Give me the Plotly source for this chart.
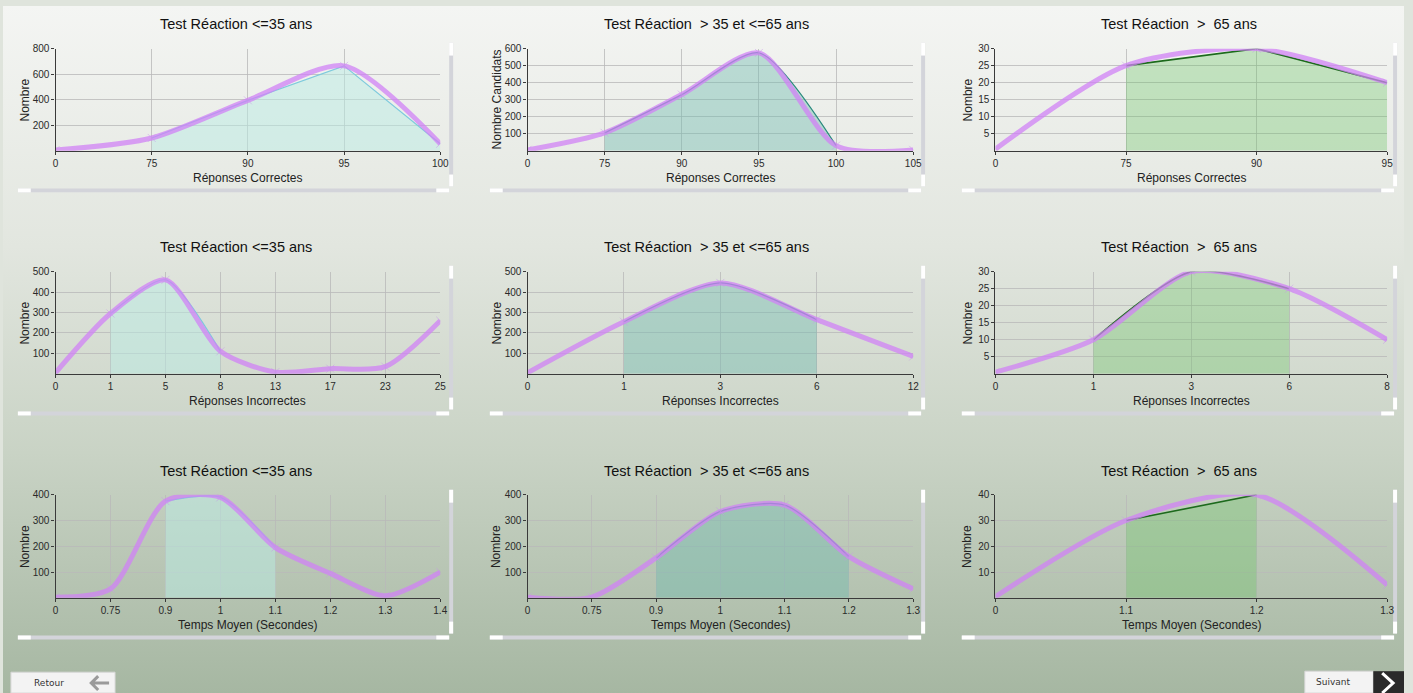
import base64
import plotly.graph_objects as go

W, H = 1413, 693

# ---------------- DATA ----------------
titles = ["Test Réaction <=35 ans", "Test Réaction  > 35 et <=65 ans", "Test Réaction  >  65 ans"]
x_titles = ["Réponses Correctes", "Réponses Incorrectes", "Temps Moyen (Secondes)"]

# Row 1 : Réponses Correctes
corr_cats_young = ["0", "75", "90", "95", "100"]
corr_vals_young = [5, 100, 395, 665, 55]
corr_band_young = ["75", "100"]

corr_cats_mid = ["0", "75", "90", "95", "100", "105"]
corr_vals_mid = [5, 105, 330, 575, 30, 5]
corr_band_mid = ["75", "100"]

corr_cats_old = ["0", "75", "90", "95"]
corr_vals_old = [0.5, 25, 30, 20]
corr_band_old = ["75", "95"]

# Row 2 : Réponses Incorrectes
inc_cats_young = ["0", "1", "5", "8", "13", "17", "23", "25"]
inc_vals_young = [5, 295, 460, 110, 8, 25, 35, 260]
inc_band_young = ["1", "8"]

inc_cats_mid = ["0", "1", "3", "6", "12"]
inc_vals_mid = [5, 255, 445, 265, 85]
inc_band_mid = ["1", "6"]

inc_cats_old = ["0", "1", "3", "6", "8"]
inc_vals_old = [0.5, 10, 30, 25, 10]
inc_band_old = ["1", "6"]

# Row 3 : Temps Moyen
time_cats_young = ["0", "0.75", "0.9", "1", "1.1", "1.2", "1.3", "1.4"]
time_vals_young = [2, 35, 375, 390, 195, 95, 8, 100]
time_band_young = ["0.9", "1.1"]

time_cats_mid = ["0", "0.75", "0.9", "1", "1.1", "1.2", "1.3"]
time_vals_mid = [2, 3, 155, 335, 360, 160, 35]
time_band_mid = ["0.9", "1.2"]

time_cats_old = ["0", "1.1", "1.2", "1.3"]
time_vals_old = [0.5, 30, 40, 5]
time_band_old = ["1.1", "1.2"]

# y tick labels per panel
yticks_corr_young = [200, 400, 600, 800]
yticks_corr_mid = [100, 200, 300, 400, 500, 600]
yticks_corr_old = [5, 10, 15, 20, 25, 30]
yticks_inc_young = [100, 200, 300, 400, 500]
yticks_inc_mid = [100, 200, 300, 400, 500]
yticks_inc_old = [5, 10, 15, 20, 25, 30]
yticks_time_young = [100, 200, 300, 400]
yticks_time_mid = [100, 200, 300, 400]
yticks_time_old = [10, 20, 30, 40]

y_titles = [["Nombre", "Nombre Candidats", "Nombre"],
            ["Nombre", "Nombre", "Nombre"],
            ["Nombre", "Nombre", "Nombre"]]

panels = [
    [(corr_cats_young, corr_vals_young, corr_band_young, yticks_corr_young, "linear"),
     (corr_cats_mid, corr_vals_mid, corr_band_mid, yticks_corr_mid, "spline"),
     (corr_cats_old, corr_vals_old, corr_band_old, yticks_corr_old, "linear")],
    [(inc_cats_young, inc_vals_young, inc_band_young, yticks_inc_young, "spline"),
     (inc_cats_mid, inc_vals_mid, inc_band_mid, yticks_inc_mid, "spline"),
     (inc_cats_old, inc_vals_old, inc_band_old, yticks_inc_old, "spline")],
    [(time_cats_young, time_vals_young, time_band_young, yticks_time_young, "spline"),
     (time_cats_mid, time_vals_mid, time_band_mid, yticks_time_mid, "spline"),
     (time_cats_old, time_vals_old, time_band_old, yticks_time_old, "linear")],
]

# ---------------- STYLE / LAYOUT ----------------
col_px = [(53, 441), (529, 918), (1001, 1396)]
row_px = [(43, 146), (268, 371), (493, 597)]
row_off = [0, 225, 451]
title_cx = [235, 710, 1186]
ytitle_cx = [22, 498, 973]
vbar_x = [452, 928, 1404]
hbar_x = [(15, 450), (491, 926), (967, 1403)]

fill_colors = ["rgba(185,235,228,0.50)", "rgba(110,185,175,0.42)", "rgba(100,195,95,0.33)"]
band_line_colors = ["rgba(120,200,220,0.95)", "#2a8a7e", "#1c6a1c"]
band_line_width = [1.2, 1.3, 1.6]
violet = "rgba(208,130,245,0.75)"

FONT = "Liberation Sans, Arial, sans-serif"


def pxx(x):
    return x / W


def pyy(y):
    return 1 - y / H


fig = go.Figure()
annotations = []
shapes = []
layout_axes = {}

idx = 0
for r in range(3):
    for c in range(3):
        idx += 1
        cats, vals, band, yticks, band_shape = panels[r][c]
        xa = "x" if idx == 1 else f"x{idx}"
        ya = "y" if idx == 1 else f"y{idx}"
        i0, i1 = cats.index(band[0]), cats.index(band[1])
        bx, by = cats[i0:i1 + 1], vals[i0:i1 + 1]

        # filled band with thin line
        fig.add_trace(go.Scatter(
            x=bx, y=by, xaxis=xa, yaxis=ya, mode="lines",
            fill="tozeroy", fillcolor=fill_colors[c],
            line=dict(color=band_line_colors[c], width=band_line_width[c], shape=band_shape,
                      smoothing=0.7),
            showlegend=False, hoverinfo="skip"))
        # thick violet spline across all points
        fig.add_trace(go.Scatter(
            x=cats, y=vals, xaxis=xa, yaxis=ya, mode="lines+markers",
            line=dict(color=violet, width=5, shape="spline", smoothing=0.75),
            marker=dict(symbol="x-thin", size=8, color="rgba(200,150,235,0.5)",
                        line=dict(width=1, color="rgba(200,150,235,0.5)")),
            showlegend=False))

        l, rr = col_px[c]
        t, b = row_px[r]
        ymax = yticks[-1]
        key = "" if idx == 1 else str(idx)
        layout_axes["xaxis" + key] = dict(
            domain=[pxx(l), pxx(rr)], anchor=ya, type="category",
            categoryorder="array", categoryarray=cats,
            range=[0, len(cats) - 1], showgrid=True, gridcolor="rgba(185,185,185,0.8)",
            gridwidth=1, showline=True, linecolor="#3a3a3a", linewidth=1.2,
            ticks="outside", ticklen=3, tickcolor="#3a3a3a",
            tickfont=dict(family=FONT, size=10, color="#2a2a2a"), zeroline=False,
            fixedrange=True)
        layout_axes["yaxis" + key] = dict(
            domain=[pyy(b), pyy(t)], anchor=xa, range=[0, ymax],
            tickvals=yticks, ticktext=[str(v) for v in yticks],
            showgrid=True, gridcolor="rgba(185,185,185,0.8)", gridwidth=1,
            showline=True, linecolor="#3a3a3a", linewidth=1.2,
            ticks="outside", ticklen=3, tickcolor="#3a3a3a",
            tickfont=dict(family=FONT, size=10, color="#2a2a2a"), zeroline=False,
            fixedrange=True)

        off = row_off[r]
        # panel title
        annotations.append(dict(text=titles[c], xref="paper", yref="paper",
                                x=pxx(title_cx[c]), y=pyy(18 + off), showarrow=False,
                                xanchor="center", yanchor="middle",
                                font=dict(family=FONT, size=14.5, color="#111111")))
        # x title
        annotations.append(dict(text=x_titles[r], xref="paper", yref="paper",
                                x=pxx((l + rr) / 2), y=pyy(173 + off), showarrow=False,
                                xanchor="center", yanchor="middle",
                                font=dict(family=FONT, size=12, color="#222222")))
        # y title
        annotations.append(dict(text=y_titles[r][c], xref="paper", yref="paper",
                                x=pxx(ytitle_cx[c]), y=pyy((t + b) / 2), showarrow=False,
                                textangle=-90, xanchor="center", yanchor="middle",
                                font=dict(family=FONT, size=12, color="#222222")))

        # decorative scroll bars
        vx = vbar_x[c]
        shapes.append(dict(type="rect", xref="paper", yref="paper", layer="below",
                           x0=pxx(vx - 2), x1=pxx(vx + 2), y0=pyy(182 + off), y1=pyy(37 + off),
                           fillcolor="#d3d4da", line=dict(width=0)))
        shapes.append(dict(type="rect", xref="paper", yref="paper", layer="below",
                           x0=pxx(vx - 2), x1=pxx(vx + 2), y0=pyy(50 + off), y1=pyy(37 + off),
                           fillcolor="#ffffff", line=dict(width=0)))
        shapes.append(dict(type="rect", xref="paper", yref="paper", layer="below",
                           x0=pxx(vx - 2), x1=pxx(vx + 2), y0=pyy(182 + off), y1=pyy(170 + off),
                           fillcolor="#ffffff", line=dict(width=0)))
        hx0, hx1 = hbar_x[c]
        shapes.append(dict(type="rect", xref="paper", yref="paper", layer="below",
                           x0=pxx(hx0), x1=pxx(hx1), y0=pyy(188 + off), y1=pyy(184 + off),
                           fillcolor="#d3d4da", line=dict(width=0)))
        shapes.append(dict(type="rect", xref="paper", yref="paper", layer="below",
                           x0=pxx(hx0), x1=pxx(hx0 + 13), y0=pyy(188 + off), y1=pyy(184 + off),
                           fillcolor="#ffffff", line=dict(width=0)))
        shapes.append(dict(type="rect", xref="paper", yref="paper", layer="below",
                           x0=pxx(hx1 - 13), x1=pxx(hx1), y0=pyy(188 + off), y1=pyy(184 + off),
                           fillcolor="#ffffff", line=dict(width=0)))

# Buttons
shapes.append(dict(type="rect", xref="paper", yref="paper", x0=pxx(8), x1=pxx(113),
                   y0=pyy(693), y1=pyy(672), fillcolor="#f3f3f3",
                   line=dict(color="#d8d8d8", width=1)))
shapes.append(dict(type="path", xref="paper", yref="paper",
                   path=f"M {pxx(107)},{pyy(683)} L {pxx(89)},{pyy(683)} M {pxx(96)},{pyy(676)} L {pxx(89)},{pyy(683)} L {pxx(96)},{pyy(690)}",
                   line=dict(color="#9a9a9a", width=3)))
annotations.append(dict(text="Retour", xref="paper", yref="paper", x=pxx(46), y=pyy(683),
                        showarrow=False, xanchor="center", yanchor="middle",
                        font=dict(family="DejaVu Sans, sans-serif", size=9, color="#333333")))
shapes.append(dict(type="rect", xref="paper", yref="paper", x0=pxx(1313), x1=pxx(1382),
                   y0=pyy(693), y1=pyy(671), fillcolor="#f3f3f3",
                   line=dict(color="#d8d8d8", width=1)))
shapes.append(dict(type="rect", xref="paper", yref="paper", x0=pxx(1382), x1=pxx(1413),
                   y0=pyy(693), y1=pyy(671), fillcolor="#2a2a2a", line=dict(width=0)))
shapes.append(dict(type="path", xref="paper", yref="paper",
                   path=f"M {pxx(1391)},{pyy(673)} L {pxx(1402)},{pyy(683)} L {pxx(1391)},{pyy(693)}",
                   line=dict(color="#ffffff", width=3)))
annotations.append(dict(text="Suivant", xref="paper", yref="paper", x=pxx(1341), y=pyy(682),
                        showarrow=False, xanchor="center", yanchor="middle",
                        font=dict(family="DejaVu Sans, sans-serif", size=9, color="#333333")))

# Background gradient
svg = ('<svg xmlns="http://www.w3.org/2000/svg" width="1413" height="693" preserveAspectRatio="none">'
       '<defs><linearGradient id="g" x1="0" y1="0" x2="0" y2="1">'
       '<stop offset="0" stop-color="#f4f5f3"/><stop offset="0.35" stop-color="#e2e6df"/>'
       '<stop offset="0.65" stop-color="#c9d3c5"/><stop offset="1" stop-color="#a6b7a2"/>'
       '</linearGradient></defs><rect width="1413" height="693" fill="url(#g)"/></svg>')
bg_src = "data:image/svg+xml;base64," + base64.b64encode(svg.encode()).decode()

fig.update_layout(
    width=W, height=H, margin=dict(l=0, r=0, t=0, b=0),
    paper_bgcolor="#dfe4dc", plot_bgcolor="rgba(0,0,0,0)",
    showlegend=False, annotations=annotations, shapes=shapes,
    images=[dict(source=bg_src, xref="paper", yref="paper", x=0, y=1, sizex=1, sizey=1,
                 xanchor="left", yanchor="top", sizing="stretch", layer="below")],
    font=dict(family=FONT),
    **layout_axes)

post = """
document.documentElement.style.margin='0';
document.documentElement.style.overflow='hidden';
document.body.style.margin='0';
document.body.style.padding='0';
document.body.style.overflow='hidden';
var gd = document.getElementById('{plot_id}');
var w = window.innerWidth, h = window.innerHeight;
if (w > 0 && h > 0 && (Math.abs(w - 1413) > 1 || Math.abs(h - 693) > 1)) {
    Plotly.relayout(gd, {width: w, height: h});
}
"""

fig.write_html("out.html", config={"displayModeBar": False}, post_script=post)
